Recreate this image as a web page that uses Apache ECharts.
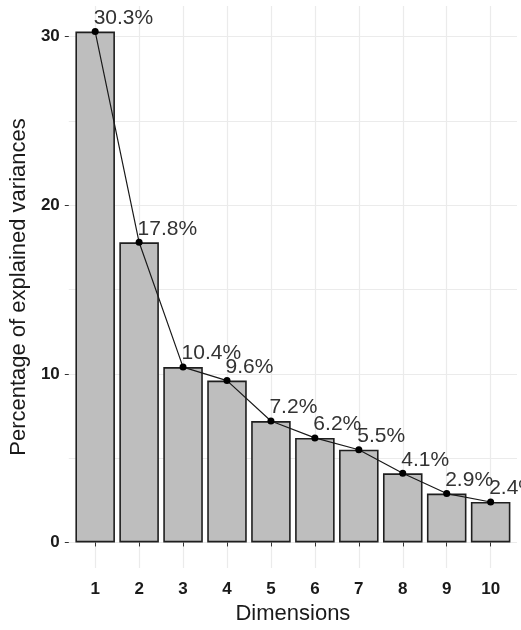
<!DOCTYPE html>
<html>
<head>
<meta charset="utf-8">
<script src="https://cdn.jsdelivr.net/npm/echarts@6/dist/echarts.min.js"></script>
<style>
  html, body { margin: 0; padding: 0; background: #fff; }
  #chart { width: 521px; height: 630px; }
</style>
</head>
<body>
<div id="chart"></div>
<script>
// Scree plot: share of variance explained by each dimension
const dims = [1, 2, 3, 4, 5, 6, 7, 8, 9, 10];
const variances = [30.3, 17.8, 10.4, 9.6, 7.2, 6.2, 5.5, 4.1, 2.9, 2.4];
const yMajorTicks = [0, 10, 20, 30];
const yMinorGrid = [0, 5, 10, 15, 20, 25, 30];

const FONT = "'Liberation Sans', Arial, sans-serif";
const points = dims.map((d, i) => [d, variances[i]]);

// axis padding like a ggplot panel (5% on values, 0.6 units on categories)
const yMax = Math.max(...variances);
const yPad = yMax * 0.05;

const chart = echarts.init(document.getElementById('chart'));
chart.setOption({
  animation: false,
  backgroundColor: '#ffffff',
  textStyle: { fontFamily: FONT },
  grid: { left: 68, right: 4, top: 6, bottom: 61.5 },
  xAxis: {
    type: 'value',
    min: dims[0] - 0.6,
    max: dims[dims.length - 1] + 0.6,
    name: 'Dimensions',
    nameLocation: 'middle',
    nameGap: 35,
    nameTextStyle: { fontSize: 22, color: '#1a1a1a', fontFamily: FONT },
    axisLine: { show: false },
    axisTick: { show: true, length: 4, customValues: dims, lineStyle: { color: '#333', width: 1 } },
    axisLabel: {
      customValues: dims, margin: 13,
      fontSize: 17, fontWeight: 'bold', color: '#1a1a1a', fontFamily: FONT
    },
    splitLine: { show: true, lineStyle: { color: '#ebebeb', width: 1.2 } }
  },
  yAxis: [
    {
      type: 'value',
      min: -yPad,
      max: yMax + yPad,
      name: 'Percentage of explained variances',
      nameLocation: 'middle',
      nameGap: 38,
      nameTextStyle: { fontSize: 22, color: '#1a1a1a', fontFamily: FONT },
      axisLine: { show: false },
      axisTick: { show: true, length: 4, customValues: yMajorTicks, lineStyle: { color: '#333', width: 1 } },
      axisLabel: {
        customValues: yMajorTicks, margin: 9,
        fontSize: 17, fontWeight: 'bold', color: '#1a1a1a', fontFamily: FONT
      },
      splitLine: { show: false }
    },
    {
      // background grid at every 5 units
      type: 'value',
      position: 'right',
      min: -yPad,
      max: yMax + yPad,
      axisLine: { show: false },
      axisTick: { show: false, customValues: yMinorGrid },
      axisLabel: { show: false },
      splitLine: { show: true, lineStyle: { color: '#ebebeb', width: 1.2 } }
    }
  ],
  series: [
    {
      type: 'bar',
      data: points,
      barWidth: '90%',
      itemStyle: { color: '#bebebe', borderColor: '#1f1f1f', borderWidth: 1.6 },
      z: 2
    },
    {
      type: 'line',
      data: points,
      symbol: 'circle',
      symbolSize: 7,
      lineStyle: { color: '#1a1a1a', width: 1.2 },
      itemStyle: { color: '#000' },
      label: {
        show: true,
        position: [2, 0.5],
        align: 'left',
        verticalAlign: 'bottom',
        fontSize: 21,
        lineHeight: 21,
        color: '#333333',
        fontFamily: FONT,
        formatter: p => p.value[1] + '%'
      },
      z: 3
    }
  ]
});
</script>
</body>
</html>
